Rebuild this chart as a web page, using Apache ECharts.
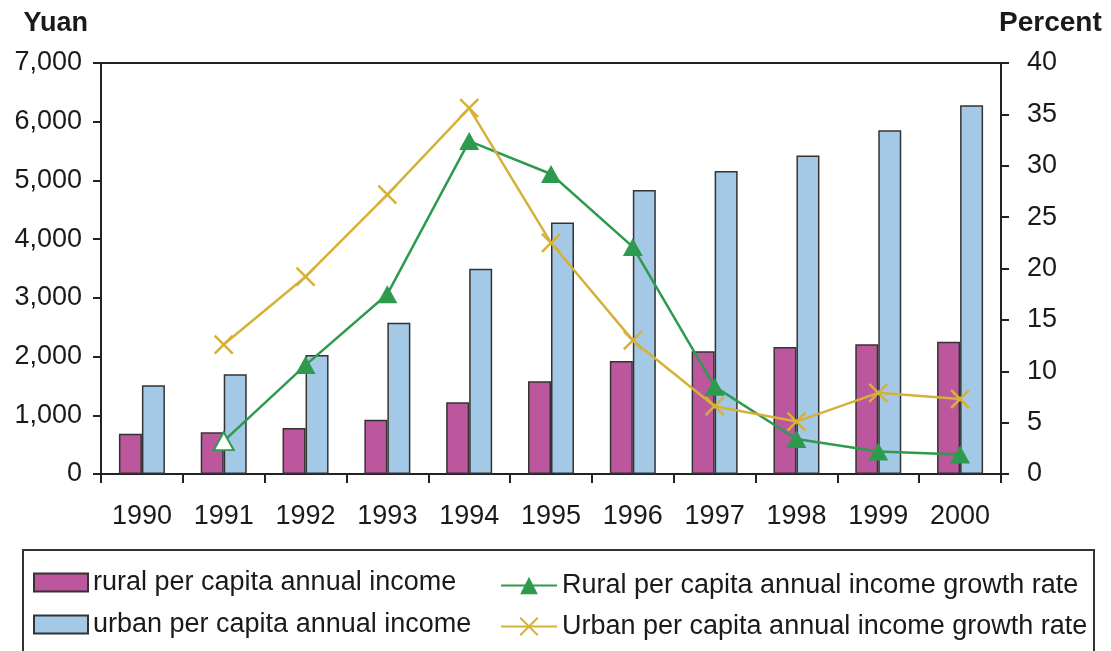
<!DOCTYPE html>
<html>
<head>
<meta charset="utf-8">
<script src="https://cdn.jsdelivr.net/npm/echarts@6/dist/echarts.min.js"></script>
<style>
    html, body { margin: 0; padding: 0; background: #fff; }
    #chart { width: 1111px; height: 651px; }
</style>
</head>
<body>
<div id="chart"></div>
<script>
    // data
    var years = ['1990', '1991', '1992', '1993', '1994', '1995', '1996', '1997', '1998', '1999', '2000'];
    var ruralIncome = [686, 709, 784, 922, 1221, 1578, 1926, 2090, 2162, 2210, 2253];
    var urbanIncome = [1510, 1701, 2027, 2577, 3496, 4283, 4839, 5160, 5425, 5854, 6280];
    var ruralGrowth = [null, 3.2, 10.6, 17.5, 32.4, 29.2, 22.1, 8.5, 3.4, 2.2, 1.9];
    var urbanGrowth = [null, 12.6, 19.2, 27.2, 35.6, 22.5, 13.0, 6.6, 5.1, 7.9, 7.3];

    var pink = '#BC569D';
    var blue = '#A3C9E6';
    var green = '#2E9A4E';
    var yellow = '#D6B13A';
    var ink = '#1a1a1a';

    var names = [
        'rural per capita annual income',
        'urban per capita annual income',
        'Rural per capita annual income growth rate',
        'Urban per capita annual income growth rate'
    ];

    var ruralGrowthData = ruralGrowth.map(function (v, i) {
        // 1991 point is drawn hollow in the original
        if (i === 1) {
            return { value: v, itemStyle: { color: '#fff', borderColor: green, borderWidth: 2 } };
        }
        return v;
    });

    var myChart = echarts.init(document.getElementById('chart'));
    myChart.setOption({
        animation: false,
        backgroundColor: '#fff',
        textStyle: { fontFamily: 'Liberation Sans, Arial, sans-serif' },
        grid: {
            left: 101, right: 110, top: 63, bottom: 177,
            show: true, borderColor: '#222', borderWidth: 2
        },
        legend: [
            {
                data: [names[0], names[1]],
                orient: 'vertical',
                left: 33, top: 569,
                padding: 0,
                icon: 'rect',
                itemWidth: 54, itemHeight: 18, itemGap: 15,
                textStyle: { fontSize: 27, lineHeight: 27, color: ink }
            },
            {
                data: [names[2], names[3]],
                orient: 'vertical',
                left: 500, top: 572,
                padding: 0,
                itemWidth: 56, itemHeight: 22, itemGap: 14,
                textStyle: { fontSize: 27, lineHeight: 27, color: ink }
            }
        ],
        graphic: [
            {
                type: 'rect',
                shape: { x: 23, y: 550, width: 1071, height: 130 },
                style: { fill: 'none', stroke: '#333', lineWidth: 2 },
                silent: true
            }
        ],
        xAxis: {
            type: 'category',
            data: years,
            axisLine: { lineStyle: { color: '#222', width: 2 } },
            axisTick: { show: true, length: 9, lineStyle: { color: '#222', width: 2 } },
            axisLabel: { fontSize: 27, color: ink, margin: 29 }
        },
        yAxis: [
            {
                type: 'value',
                min: 0, max: 7000, interval: 1000,
                name: 'Yuan',
                nameLocation: 'end',
                nameGap: 26,
                nameTextStyle: { fontSize: 27, fontWeight: 'bold', color: ink, align: 'right', padding: [0, 13, 0, 0] },
                axisLine: { show: true, lineStyle: { color: '#222', width: 2 } },
                axisTick: { show: true, length: 8, lineStyle: { color: '#222', width: 2 } },
                axisLabel: {
                    fontSize: 27, color: ink, margin: 19,
                    formatter: function (v) { return v.toLocaleString('en-US'); }
                },
                splitLine: { show: false }
            },
            {
                type: 'value',
                min: 0, max: 40, interval: 5,
                name: 'Percent',
                nameLocation: 'end',
                nameGap: 26,
                nameTextStyle: { fontSize: 28, fontWeight: 'bold', color: ink, align: 'left', padding: [0, 0, 0, -2] },
                axisLine: { show: true, lineStyle: { color: '#222', width: 2 } },
                axisTick: { show: true, length: 8, lineStyle: { color: '#222', width: 2 } },
                axisLabel: { fontSize: 27, color: ink, margin: 26 },
                splitLine: { show: false }
            }
        ],
        series: [
            {
                name: names[0],
                type: 'bar',
                data: ruralIncome,
                barWidth: 23,
                barGap: 0,
                itemStyle: { color: pink, borderColor: '#333', borderWidth: 1.5 }
            },
            {
                name: names[1],
                type: 'bar',
                data: urbanIncome,
                barWidth: 23,
                barGap: 0,
                itemStyle: { color: blue, borderColor: '#333', borderWidth: 1.5 }
            },
            {
                name: names[2],
                type: 'line',
                yAxisIndex: 1,
                data: ruralGrowthData,
                symbol: 'triangle',
                symbolSize: [20, 18],
                lineStyle: { color: green, width: 2.5 },
                itemStyle: { color: green }
            },
            {
                name: names[3],
                type: 'line',
                yAxisIndex: 1,
                data: urbanGrowth,
                symbol: 'path://M0,0L20,20M20,0L0,20',
                symbolSize: 18,
                lineStyle: { color: yellow, width: 2.5 },
                itemStyle: { color: yellow, borderColor: yellow, borderWidth: 2.5 }
            }
        ]
    });
</script>
</body>
</html>
